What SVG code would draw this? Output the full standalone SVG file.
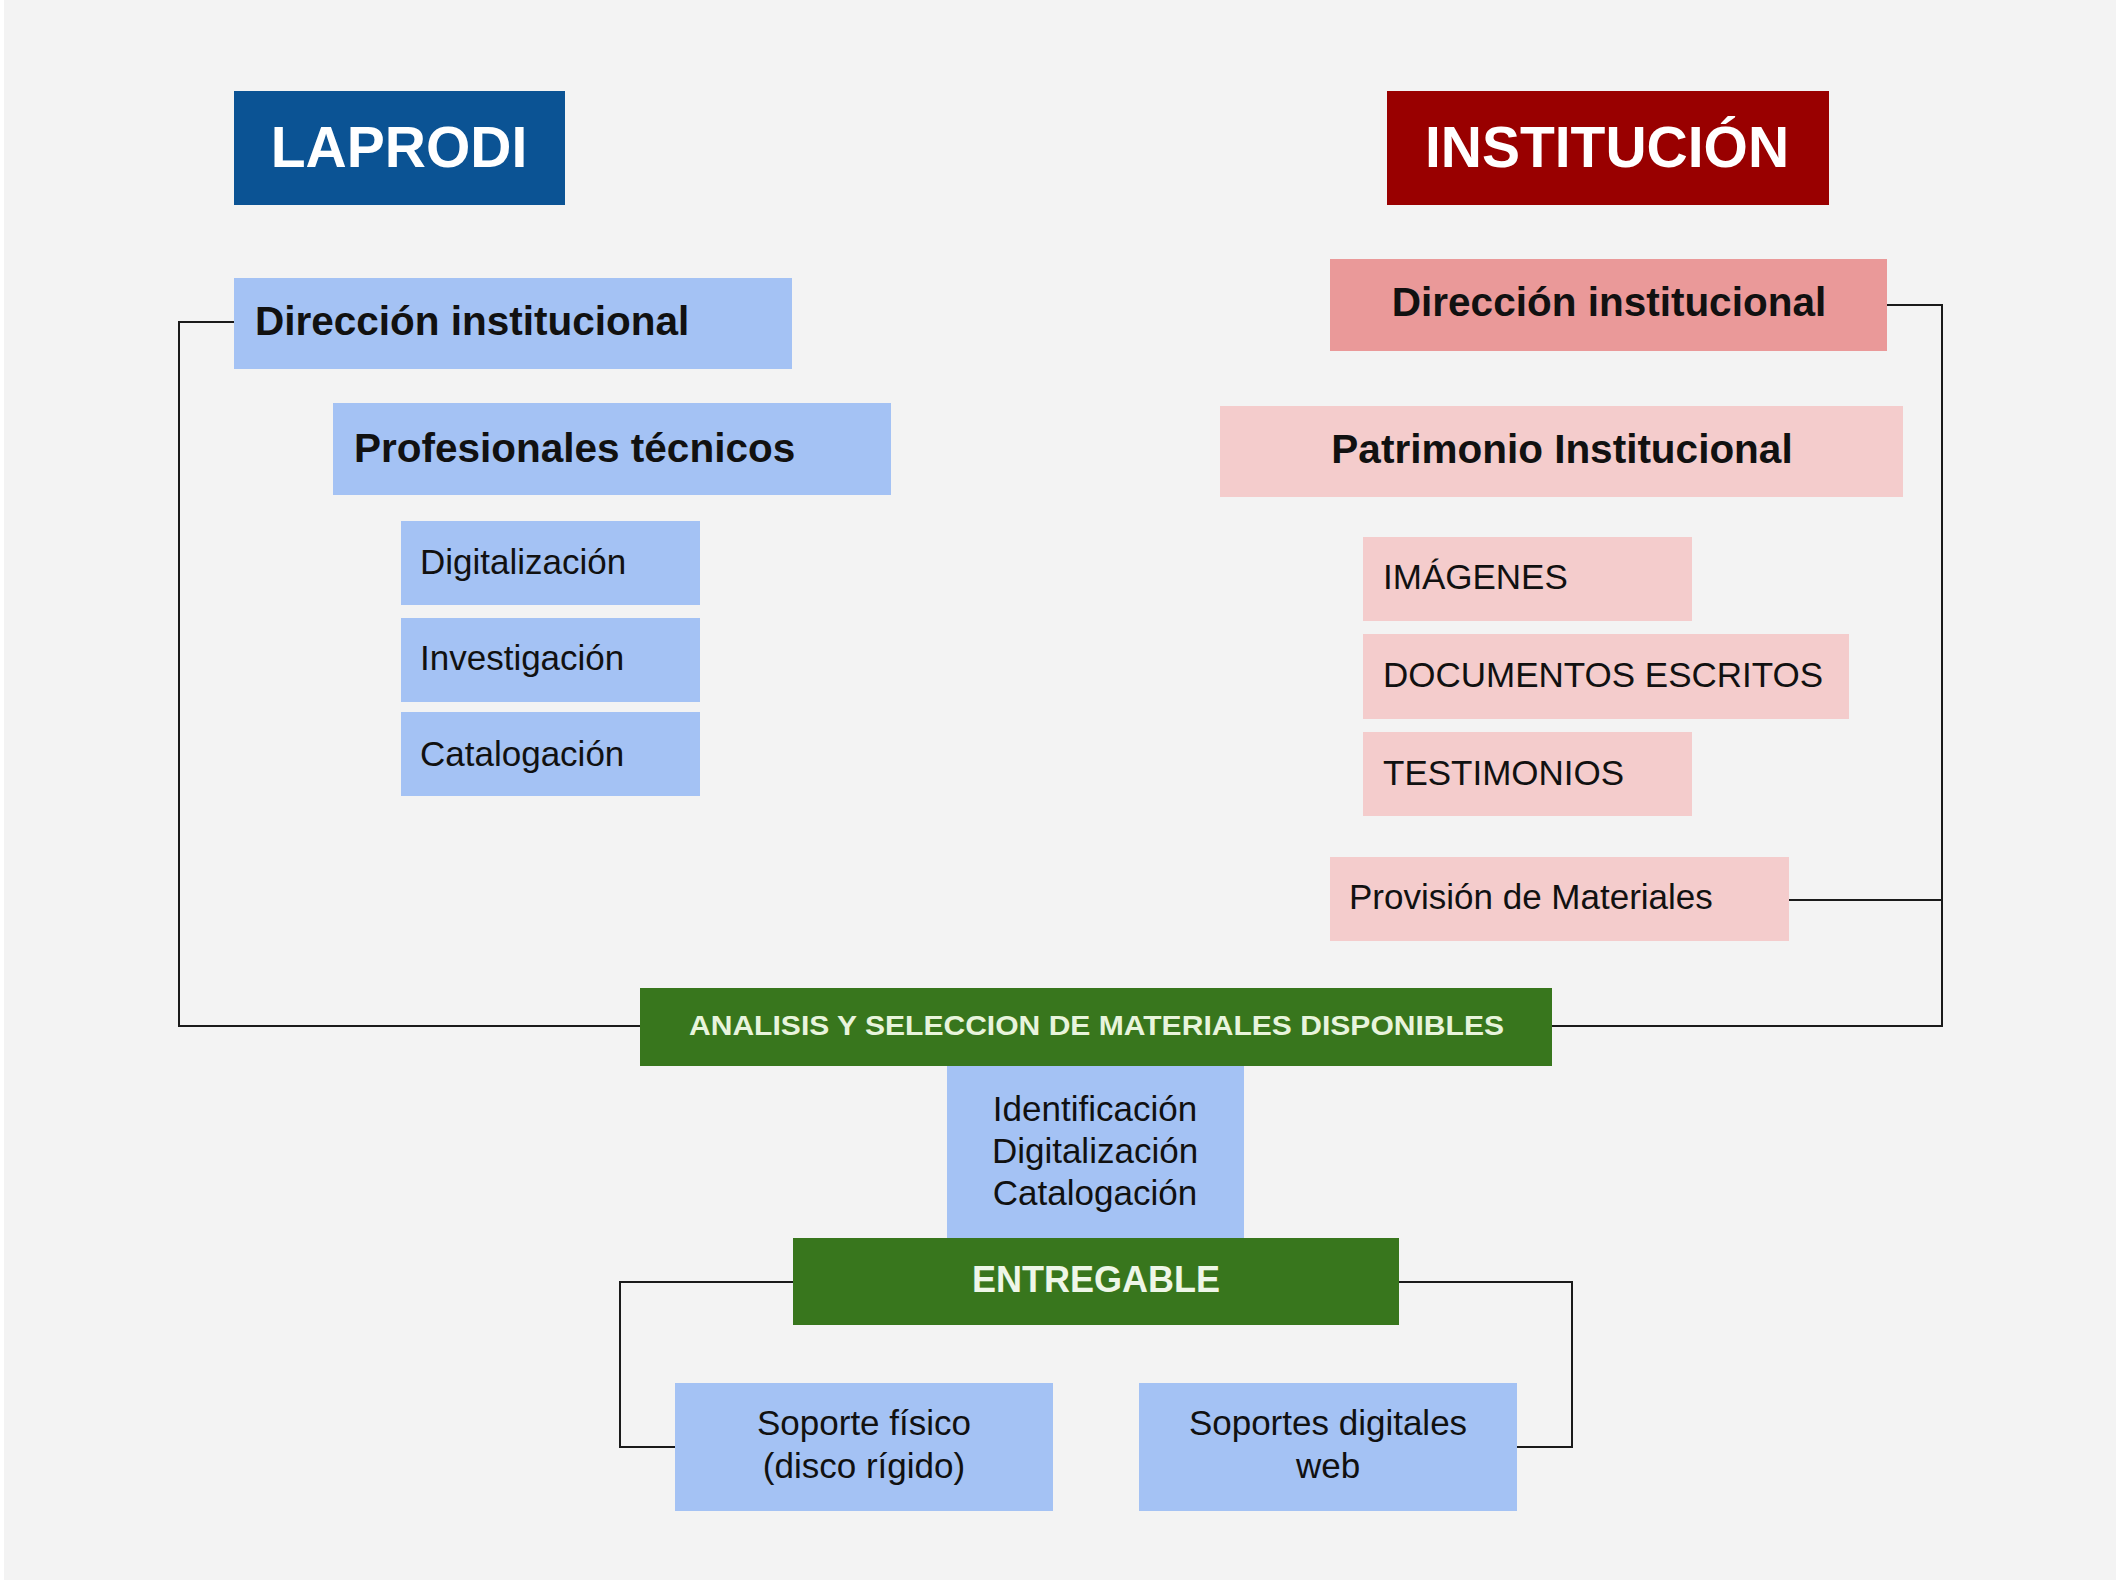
<svg xmlns="http://www.w3.org/2000/svg" width="2116" height="1584" viewBox="0 0 2116 1584">
<style>
.b{font-family:"Liberation Sans",Arial,sans-serif;font-weight:bold}
.r{font-family:"Liberation Sans",Arial,sans-serif}
.ln{fill:none;stroke:#1a1a1a;stroke-width:2}
.blue{fill:#a4c2f4}
.pink{fill:#f4cccc}
.green{fill:#38761d}
.t{fill:#111}
</style>
<rect x="0" y="0" width="2116" height="1584" fill="#ffffff"/>
<rect x="4" y="0" width="2112" height="1580" fill="#f3f3f3"/>
<g id="connectors">
<polyline class="ln" points="234,322 179,322 179,1026 640,1026"/>
<polyline class="ln" points="1887,305 1942,305 1942,1026 1552,1026"/>
<line class="ln" x1="1789" y1="900" x2="1942" y2="900"/>
<line class="ln" x1="1095" y1="1060" x2="1095" y2="1072" stroke-width="1"/>
<line class="ln" x1="1095" y1="1232" x2="1095" y2="1244" stroke-width="1"/>
<polyline class="ln" points="793,1282 620,1282 620,1447 675,1447"/>
<polyline class="ln" points="1399,1282 1572,1282 1572,1447 1517,1447"/>
</g>
<g id="laprodi">
<rect x="234" y="91" width="331" height="114" fill="#0b5394"/>
<text class="b" x="399" y="167" font-size="57" fill="#ffffff" text-anchor="middle">LAPRODI</text>
</g>
<g id="institucion">
<rect x="1387" y="91" width="442" height="114" fill="#990000"/>
<text class="b" x="1607" y="167" font-size="57" fill="#ffffff" text-anchor="middle">INSTITUCIÓN</text>
</g>
<g id="lap-direccion">
<rect class="blue" x="234" y="278" width="558" height="91"/>
<text class="b t" x="255" y="335" font-size="40.5">Dirección institucional</text>
</g>
<g id="lap-profesionales">
<rect class="blue" x="333" y="403" width="558" height="92"/>
<text class="b t" x="354" y="462" font-size="40.5">Profesionales técnicos</text>
</g>
<g id="lap-digitalizacion">
<rect class="blue" x="401" y="521" width="299" height="84"/>
<text class="r t" x="420" y="574" font-size="35">Digitalización</text>
</g>
<g id="lap-investigacion">
<rect class="blue" x="401" y="618" width="299" height="84"/>
<text class="r t" x="420" y="670" font-size="35">Investigación</text>
</g>
<g id="lap-catalogacion">
<rect class="blue" x="401" y="712" width="299" height="84"/>
<text class="r t" x="420" y="766" font-size="35">Catalogación</text>
</g>
<g id="inst-direccion">
<rect x="1330" y="259" width="557" height="92" fill="#ea9999"/>
<text class="b t" x="1609" y="316" font-size="40.5" text-anchor="middle">Dirección institucional</text>
</g>
<g id="inst-patrimonio">
<rect class="pink" x="1220" y="406" width="683" height="91"/>
<text class="b t" x="1562" y="463" font-size="40.5" text-anchor="middle">Patrimonio Institucional</text>
</g>
<g id="inst-imagenes">
<rect class="pink" x="1363" y="537" width="329" height="84"/>
<text class="r t" x="1383" y="589" font-size="35">IMÁGENES</text>
</g>
<g id="inst-documentos">
<rect class="pink" x="1363" y="634" width="486" height="85"/>
<text class="r t" x="1383" y="687" font-size="35">DOCUMENTOS ESCRITOS</text>
</g>
<g id="inst-testimonios">
<rect class="pink" x="1363" y="732" width="329" height="84"/>
<text class="r t" x="1383" y="785" font-size="35">TESTIMONIOS</text>
</g>
<g id="inst-provision">
<rect class="pink" x="1330" y="857" width="459" height="84"/>
<text class="r t" x="1349" y="909" font-size="35">Provisión de Materiales</text>
</g>
<g id="analisis">
<rect class="green" x="640" y="988" width="912" height="78"/>
<text class="b" x="689" y="1035" font-size="28" fill="#e8f4dc" textLength="815" lengthAdjust="spacingAndGlyphs">ANALISIS Y SELECCION DE MATERIALES DISPONIBLES</text>
</g>
<g id="proceso">
<rect class="blue" x="947" y="1066" width="297" height="172"/>
<text class="r t" x="1095" y="1121" font-size="35" text-anchor="middle">Identificación</text>
<text class="r t" x="1095" y="1163" font-size="35" text-anchor="middle">Digitalización</text>
<text class="r t" x="1095" y="1205" font-size="35" text-anchor="middle">Catalogación</text>
</g>
<g id="entregable">
<rect class="green" x="793" y="1238" width="606" height="87"/>
<text class="b" x="1096" y="1292" font-size="36" fill="#eef6e8" text-anchor="middle">ENTREGABLE</text>
</g>
<g id="soporte-fisico">
<rect class="blue" x="675" y="1383" width="378" height="128"/>
<text class="r t" x="864" y="1435" font-size="35" text-anchor="middle">Soporte físico</text>
<text class="r t" x="864" y="1478" font-size="35" text-anchor="middle">(disco rígido)</text>
</g>
<g id="soportes-digitales">
<rect class="blue" x="1139" y="1383" width="378" height="128"/>
<text class="r t" x="1328" y="1435" font-size="35" text-anchor="middle">Soportes digitales</text>
<text class="r t" x="1328" y="1478" font-size="35" text-anchor="middle">web</text>
</g>
</svg>
